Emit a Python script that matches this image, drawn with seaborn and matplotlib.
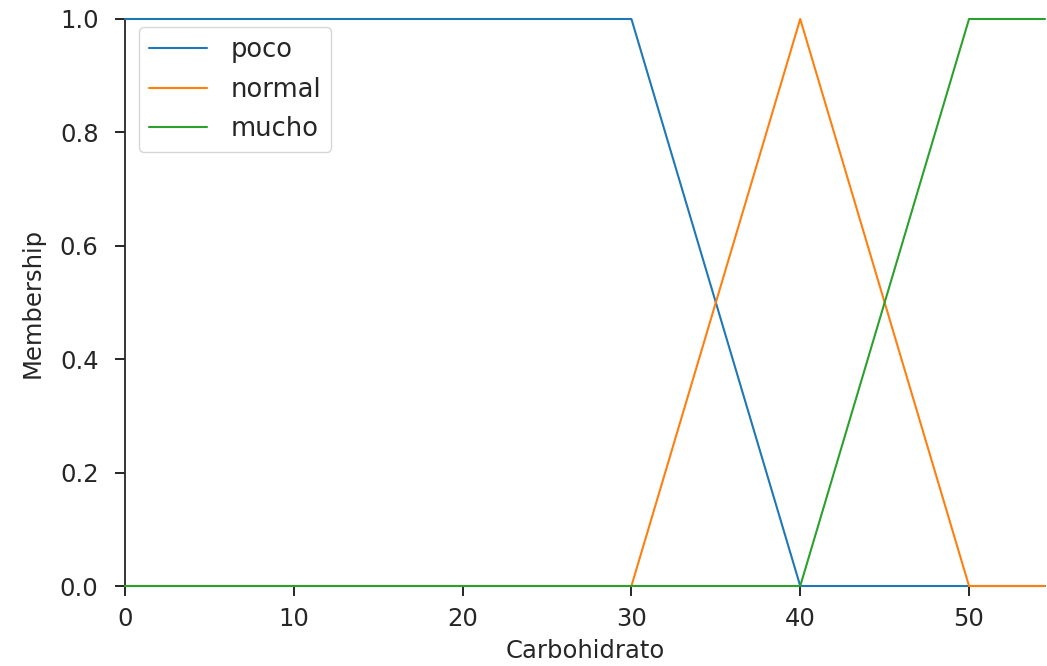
import matplotlib
matplotlib.use("Agg")
import matplotlib.pyplot as plt
import seaborn as sns
import pandas as pd

labels = ["poco", "normal", "mucho"]
poco_x = [0, 30, 40, 54.5]
poco_y = [1, 1, 0, 0]
normal_x = [0, 30, 40, 50, 54.5]
normal_y = [0, 0, 1, 0, 0]
mucho_x = [0, 40, 50, 54.5]
mucho_y = [0, 0, 1, 1]
x_ticks = [0, 10, 20, 30, 40, 50]
y_ticks = [0.0, 0.2, 0.4, 0.6, 0.8, 1.0]

rows = []
for name, xs, ys in zip(labels, [poco_x, normal_x, mucho_x], [poco_y, normal_y, mucho_y]):
    for i, (a, b) in enumerate(zip(xs, ys)):
        rows.append({"Carbohidrato": a, "Membership": b, "term": name, "order": i})
df = pd.DataFrame(rows)

sns.set_style("ticks")
plt.rcParams["font.family"] = ["DejaVu Sans"]
fig = plt.figure(figsize=(10.47, 6.66), dpi=100)
ax = fig.add_axes([125/1047, 1 - 586/666, (1045-125)/1047, (586-19)/666])

palette = ["#1f77b4", "#ff7f0e", "#2ca02c"]
sns.lineplot(data=df, x="Carbohidrato", y="Membership", hue="term",
             hue_order=labels, palette=palette, sort=False, estimator=None,
             units="term", linewidth=1.5, ax=ax, clip_on=False, zorder=3)

fs = 17.5
ax.set_xlim(0, 54.5)
ax.set_ylim(0, 1.0)
ax.set_xticks(x_ticks)
ax.set_yticks(y_ticks)
ax.set_yticklabels([f"{v:.1f}" for v in y_ticks])
ax.tick_params(axis="both", which="major", bottom=True, left=True, direction="out",
               labelsize=fs, length=7, width=1.4, color="#262626", labelcolor="#262626")
ax.tick_params(axis="y", pad=12)
ax.tick_params(axis="x", pad=8)
ax.set_xlabel("Carbohidrato", fontsize=fs, color="#262626", labelpad=6)
ax.set_ylabel("Membership", fontsize=fs, color="#262626", labelpad=11)
for s in ["left", "bottom"]:
    ax.spines[s].set_linewidth(1.3)
    ax.spines[s].set_color("#262626")
sns.despine(ax=ax)

leg = ax.legend(loc="upper left", fontsize=18.5, frameon=True, handlelength=2.25,
                bbox_to_anchor=(139/1047, 1 - 27/666), bbox_transform=fig.transFigure,
                borderaxespad=0, labelspacing=0.52, handletextpad=0.9)
leg.get_frame().set_linewidth(1.0)
for line in leg.get_lines():
    line.set_linewidth(1.5)

fig.savefig("out.png", dpi=100)
